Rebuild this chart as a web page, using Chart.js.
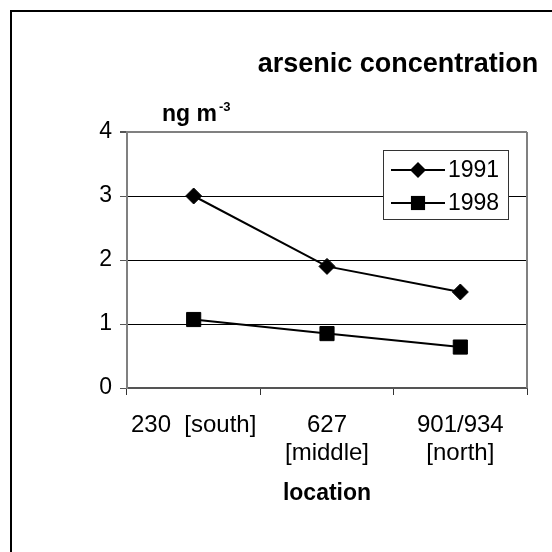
<!DOCTYPE html>
<html>
<head>
<meta charset="utf-8">
<script src="https://cdn.jsdelivr.net/npm/chart.js@4.4.1/dist/chart.umd.min.js"></script>
<style>
  html, body { margin: 0; padding: 0; background: #fff; }
  #wrap { position: relative; width: 552px; height: 552px; }
</style>
</head>
<body>
<div id="wrap"><canvas id="arsenic" width="552" height="552"></canvas></div>
<script>
// arsenic concentration by location, ng m-3
const locations = [['230  [south]'], ['627', '[middle]'], ['901/934', '[north]']];
const years = ['1991', '1998'];
const conc1991 = [3.0, 1.9, 1.5];
const conc1998 = [1.07, 0.85, 0.64];
const yTicks = [0, 1, 2, 3, 4];

const FONT = '"Liberation Sans", Arial, sans-serif';

// frame, titles and the boxed legend are drawn by hand
const decorations = {
    id: 'decorations',
    afterDraw(chart) {
        const ctx = chart.ctx;
        const area = chart.chartArea;
        ctx.save();

        // outer frame
        ctx.strokeStyle = '#000';
        ctx.lineWidth = 2;
        ctx.strokeRect(11, 11, 600, 600);

        // right edge of plot area
        ctx.strokeStyle = '#808080';
        ctx.lineWidth = 2;
        ctx.beginPath();
        ctx.moveTo(area.right, area.top);
        ctx.lineTo(area.right, area.bottom);
        ctx.stroke();

        ctx.fillStyle = '#000';
        ctx.textBaseline = 'middle';

        // chart title
        ctx.font = 'bold 27px ' + FONT;
        ctx.textAlign = 'center';
        ctx.fillText('arsenic concentration', 398, 65);

        // unit label with superscript
        ctx.font = 'bold 23px ' + FONT;
        ctx.textAlign = 'left';
        ctx.textBaseline = 'alphabetic';
        ctx.fillText('ng m', 162, 121);
        const w = ctx.measureText('ng m').width;
        ctx.font = 'bold 13px ' + FONT;
        ctx.fillText('-3', 162 + w + 2, 111);

        // x axis title
        ctx.font = 'bold 23px ' + FONT;
        ctx.textAlign = 'center';
        ctx.textBaseline = 'middle';
        ctx.fillText('location', (area.left + area.right) / 2, 494);

        // legend box
        const lx = 383, ly = 150, lw = 125, lh = 69;
        ctx.fillStyle = '#fff';
        ctx.fillRect(lx, ly, lw, lh);
        ctx.strokeStyle = '#333';
        ctx.lineWidth = 1;
        ctx.strokeRect(lx + 0.5, ly + 0.5, lw, lh);

        chart.data.datasets.forEach((ds, i) => {
            const y = ly + 20 + i * 33;
            ctx.strokeStyle = ds.borderColor;
            ctx.lineWidth = ds.borderWidth;
            ctx.beginPath();
            ctx.moveTo(lx + 8, y);
            ctx.lineTo(lx + 62, y);
            ctx.stroke();
            const cx = lx + 35, r = ds.pointRadius;
            ctx.fillStyle = ds.pointBackgroundColor;
            ctx.beginPath();
            if (ds.pointStyle === 'rectRot') {
                ctx.moveTo(cx, y - r);
                ctx.lineTo(cx + r, y);
                ctx.lineTo(cx, y + r);
                ctx.lineTo(cx - r, y);
            } else {
                const s = Math.SQRT1_2 * r;
                ctx.rect(cx - s, y - s, 2 * s, 2 * s);
            }
            ctx.closePath();
            ctx.fill();
            ctx.fillStyle = '#000';
            ctx.font = '23px ' + FONT;
            ctx.textAlign = 'left';
            ctx.textBaseline = 'middle';
            ctx.fillText(ds.label, lx + 65, y + 1);
        });

        ctx.restore();
    }
};

const ctx = document.getElementById('arsenic').getContext('2d');
const myChart = new Chart(ctx, {
    type: 'line',
    data: {
        labels: locations,
        datasets: [
            {
                label: years[0],
                data: conc1991,
                borderColor: '#000',
                borderWidth: 2,
                pointStyle: 'rectRot',
                pointRadius: 8,
                pointBackgroundColor: '#000',
                pointBorderColor: '#000',
                pointBorderWidth: 1
            },
            {
                label: years[1],
                data: conc1998,
                borderColor: '#000',
                borderWidth: 2,
                pointStyle: 'rect',
                pointRadius: 10,
                pointBackgroundColor: '#000',
                pointBorderColor: '#000',
                pointBorderWidth: 1
            }
        ]
    },
    options: {
        responsive: false,
        animation: false,
        layout: {
            padding: { top: 132, left: 0, right: 25, bottom: 0 }
        },
        plugins: {
            legend: { display: false },
            title: { display: false },
            tooltip: { enabled: false }
        },
        scales: {
            x: {
                offset: true,
                afterFit: (scale) => { scale.height = 164; },
                grid: {
                    offset: true,
                    drawOnChartArea: false,
                    drawTicks: true,
                    tickLength: 7,
                    color: '#333',
                    lineWidth: 1
                },
                border: { color: '#555', width: 2 },
                ticks: {
                    color: '#000',
                    font: { family: FONT, size: 24, lineHeight: 1.18 },
                    padding: 16,
                    maxRotation: 0,
                    autoSkip: false
                }
            },
            y: {
                min: yTicks[0],
                max: yTicks[yTicks.length - 1],
                afterFit: (scale) => { scale.width = 127; },
                afterBuildTicks: (scale) => { scale.ticks = yTicks.map(v => ({ value: v })); },
                grid: {
                    color: (c) => (c.tick && c.tick.value === 4 ? '#808080' : '#000'),
                    lineWidth: (c) => (c.tick && c.tick.value === 4 ? 2 : 1),
                    tickColor: '#555',
                    tickLength: 7
                },
                border: { color: '#808080', width: 2 },
                ticks: {
                    color: '#000',
                    font: { family: FONT, size: 23 },
                    padding: 8
                }
            }
        }
    },
    plugins: [decorations]
});
</script>
</body>
</html>
